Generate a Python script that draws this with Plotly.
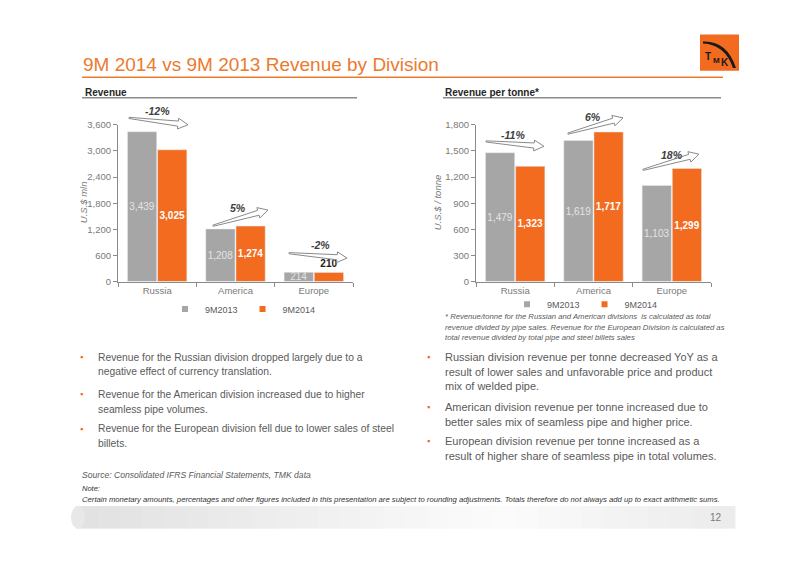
import plotly.graph_objects as go

# ---------------- data ----------------
divisions = ["Russia", "America", "Europe"]
series_names = ["9M2013", "9M2014"]
revenue_2013 = [3439, 1208, 214]
revenue_2014 = [3025, 1274, 210]
per_tonne_2013 = [1479, 1619, 1103]
per_tonne_2014 = [1323, 1717, 1299]
revenue_change = ["-12%", "5%", "-2%"]
per_tonne_change = ["-11%", "6%", "18%"]
revenue_ticks = [0, 600, 1200, 1800, 2400, 3000, 3600]
per_tonne_ticks = [0, 300, 600, 900, 1200, 1500, 1800]

left_bullets = [
    ["Revenue for the Russian division dropped largely due to a",
     "negative effect of currency translation."],
    ["Revenue for the American division increased due to higher",
     "seamless pipe volumes."],
    ["Revenue for the European division fell due to lower sales of steel",
     "billets."],
]
right_bullets = [
    ["Russian division revenue per tonne decreased YoY as a",
     "result of lower sales and unfavorable price and product",
     "mix of welded pipe."],
    ["American division revenue per tonne increased due to",
     "better sales mix of seamless pipe and higher price."],
    ["European division revenue per tonne increased as a",
     "result of higher share of seamless pipe in total volumes."],
]
footnote_lines = [
    "* Revenue/tonne for the Russian and American divisions  is calculated as total",
    "revenue divided by pipe sales. Revenue for the European Division is calculated as",
    "total revenue divided by total pipe and steel billets sales",
]

# ---------------- style ----------------
# The page body has an 8px margin, so the figure is sized to fill the rest of the
# 800x565 window; page coordinates are converted to paper coordinates below.
OFF = 8
W, H = 800 - OFF, 565 - OFF
FONT = "Liberation Sans, Arial, sans-serif"
ORANGE = "#F26B1F"
TITLE_ORANGE = "#EC7A2E"
GREY_BAR = "#A6A6A6"
AXIS = "#8A8A8A"
TXT = "#5A5A5A"


def px(x):
    return (x - OFF) / W


def py(y):
    return 1 - (y - OFF) / H


fig = go.Figure()

bar_common = dict(textangle=0, insidetextanchor="middle", cliponaxis=False,
                  hoverinfo="skip", showlegend=False)

# Revenue chart
fig.add_trace(go.Bar(
    x=divisions, y=revenue_2013, name=series_names[0], marker_color=GREY_BAR,
    xaxis="x", yaxis="y", texttemplate="%{y:,}", textposition="inside",
    insidetextfont=dict(color="#E4E4E4", size=10, family=FONT), **bar_common))
fig.add_trace(go.Bar(
    x=divisions, y=revenue_2014, name=series_names[1], marker_color=ORANGE,
    xaxis="x", yaxis="y", texttemplate="<b>%{y:,}</b>",
    textposition=["inside", "inside", "outside"],
    insidetextfont=dict(color="white", size=10, family=FONT),
    outsidetextfont=dict(color="#1A1A1A", size=10, family=FONT), **bar_common))

# Revenue per tonne chart
fig.add_trace(go.Bar(
    x=divisions, y=per_tonne_2013, name=series_names[0], marker_color=GREY_BAR,
    xaxis="x2", yaxis="y2", texttemplate="%{y:,}", textposition="inside",
    insidetextfont=dict(color="#E4E4E4", size=10, family=FONT), **bar_common))
fig.add_trace(go.Bar(
    x=divisions, y=per_tonne_2014, name=series_names[1], marker_color=ORANGE,
    xaxis="x2", yaxis="y2", texttemplate="<b>%{y:,}</b>", textposition="inside",
    insidetextfont=dict(color="white", size=10, family=FONT), **bar_common))

# Legend entries (small square keys like the original)
for lg, xa, ya in (("legend", "x", "y"), ("legend2", "x2", "y2")):
    for nm, col in zip(series_names, [GREY_BAR, ORANGE]):
        fig.add_trace(go.Scatter(x=[None], y=[None], mode="markers", name=nm,
                                 marker=dict(symbol="square", size=6, color=col),
                                 xaxis=xa, yaxis=ya, legend=lg, hoverinfo="skip"))

axis_common = dict(showline=True, linecolor=AXIS, linewidth=1, showgrid=False,
                   zeroline=False, ticks="outside", ticklen=4, tickcolor=AXIS,
                   tickfont=dict(family=FONT, size=9.5, color="#7A7A7A"))

legend_common = dict(orientation="h", xanchor="center", yanchor="middle",
                     font=dict(size=9, color=TXT, family=FONT), itemwidth=30,
                     bgcolor="rgba(0,0,0,0)", tracegroupgap=0)

fig.update_layout(
    width=W, height=H, margin=dict(l=0, r=0, t=0, b=0),
    paper_bgcolor="white", plot_bgcolor="white",
    font=dict(family=FONT, color=TXT),
    barmode="group", bargap=0.23, bargroupgap=0.03,
    uniformtext=dict(minsize=10, mode="show"),
    xaxis=dict(domain=[px(118), px(353)], tickson="boundaries", **axis_common),
    yaxis=dict(domain=[py(281), py(121)], range=[0, 3600], tickvals=revenue_ticks,
               tickformat=",", **axis_common),
    xaxis2=dict(domain=[px(476), px(711)], tickson="boundaries", anchor="y2",
                **axis_common),
    yaxis2=dict(domain=[py(281), py(121)], range=[0, 1800], tickvals=per_tonne_ticks,
                tickformat=",", anchor="x2", **axis_common),
    legend=dict(x=px(243), y=py(309), **legend_common),
    legend2=dict(x=px(585), y=py(304), **legend_common),
)

shapes = []
ann = []


def note(text, x, y, size, color, xanchor="left", **kw):
    ann.append(dict(text=text, x=px(x), y=py(y), xref="paper", yref="paper",
                    xanchor=xanchor, yanchor="middle", showarrow=False,
                    font=dict(family=FONT, size=size, color=color), **kw))


def hline(x0, x1, y, color, width):
    shapes.append(dict(type="line", xref="paper", yref="paper", x0=px(x0), x1=px(x1),
                       y0=py(y), y1=py(y), line=dict(color=color, width=width)))


# Title & headers
note("9M 2014 vs 9M 2013 Revenue by Division", 81, 60, 19, TITLE_ORANGE)
hline(82, 723, 72.5, TITLE_ORANGE, 1.5)
note("<b>Revenue</b>", 83, 88, 10, "#262626")
note("<b>Revenue per tonne*</b>", 443, 88, 10, "#262626")
hline(82, 357, 93.5, "#8C8C8C", 1.5)
hline(443, 721, 93.5, "#8C8C8C", 1.5)

# Logo
shapes.append(dict(type="rect", xref="paper", yref="paper", x0=px(700), x1=px(739),
                   y0=py(66), y1=py(29), fillcolor="#F26B1F", line=dict(width=0)))
shapes.append(dict(type="path", xref="paper", yref="paper",
                   path=(f"M {px(703)} {py(36)} Q {px(727)} {py(35)} {px(736)} {py(63)} "
                         f"L {px(733)} {py(63)} Q {px(725)} {py(39)} {px(703)} {py(38)} Z"),
                   fillcolor="#1A1A1A", line=dict(width=0)))
note("<b>T</b>", 708, 51, 10, "#1A1A1A", xanchor="center")
note("<b>M</b>", 716, 55, 8, "#1A1A1A", xanchor="center")
note("<b>K</b>", 725, 57, 10, "#1A1A1A", xanchor="center")

# Axis titles
note("<i>U.S.$ mln</i>", 83, 200, 9.5, "#7A7A7A", xanchor="center", textangle=-90)
note("<i>U.S.$ / tonne</i>", 437, 200, 9.5, "#7A7A7A", xanchor="center", textangle=-90)


def block_arrow(x0, y0, x1, y1):
    dx, dy = x1 - x0, y1 - y0
    L = (dx * dx + dy * dy) ** 0.5
    ux, uy = dx / L, dy / L
    nx, ny = -uy, ux
    hl = 10.0
    bx, by = x1 - ux * hl, y1 - uy * hl
    pts = [(x0 + nx * 0.6, y0 + ny * 0.6), (bx + nx * 2.6, by + ny * 2.6),
           (bx + nx * 5.5, by + ny * 5.5), (x1, y1),
           (bx - nx * 5.5, by - ny * 5.5), (bx - nx * 2.6, by - ny * 2.6),
           (x0 - nx * 0.6, y0 - ny * 0.6)]
    path = "M " + " L ".join(f"{px(a):.5f} {py(b):.5f}" for a, b in pts) + " Z"
    return dict(type="path", xref="paper", yref="paper", path=path,
                fillcolor="white", line=dict(color="#8A8A8A", width=1))


arrows = [
    (129, 114, 188, 121), (213, 224, 268, 208), (289, 252, 347, 257),
    (486, 138, 544, 143), (568, 130, 623, 114), (643, 167, 699, 151),
]
for a in arrows:
    shapes.append(block_arrow(*a))

pct_pos = [(157, 107), (238, 206), (320, 244)]
for t, (x, y) in zip(revenue_change, pct_pos):
    note(f"<b><i>{t}</i></b>", x, y, 10.5, "#404040", xanchor="center")
pct_pos2 = [(513, 131), (593, 113), (672, 152)]
for t, (x, y) in zip(per_tonne_change, pct_pos2):
    note(f"<b><i>{t}</i></b>", x, y, 10.5, "#404040", xanchor="center")

# Footnote under right chart
for i, line in enumerate(footnote_lines):
    note(f"<i>{line}</i>", 443, 317 + i * 10.5, 7.7, TXT)


def bullets(blocks, x_bullet, x_text, starts, size):
    for block, y0 in zip(blocks, starts):
        note("▪", x_bullet, y0, 9, ORANGE, xanchor="center")
        for i, line in enumerate(block):
            note(line, x_text, y0 + 15 * i, size, TXT)


bullets(left_bullets, 81, 96, [358, 396, 431], 10.3)
bullets(right_bullets, 428, 443, [358, 409, 444], 11)

# Source & notes
note("<i>Source: Consolidated IFRS Financial Statements, TMK data</i>", 80, 478, 8.6, TXT)
note("<i>Note:</i>", 80, 492, 7.5, "#333333")
note("<i>Certain monetary amounts, percentages and other figures included in this "
     "presentation are subject to rounding adjustments. Totals therefore do not "
     "always add up to exact arithmetic sums.</i>", 80, 503, 7.7, "#333333")

# Footer band (gradient approximation)
n = 30
x_start, x_end = 76, 735
for i in range(n):
    t = i / (n - 1)
    if t < 0.65:
        v = int(226 + (252 - 226) * (t / 0.65))
    else:
        v = int(252 - (252 - 236) * ((t - 0.65) / 0.35))
    c = f"rgb({v},{v},{v})"
    xa = x_start + (x_end - x_start) * i / n
    xb = x_start + (x_end - x_start) * (i + 1) / n + 0.5
    shapes.append(dict(type="rect", xref="paper", yref="paper", x0=px(xa), x1=px(xb),
                       y0=py(533), y1=py(510), fillcolor=c, line=dict(width=0),
                       layer="below"))
shapes.append(dict(type="circle", xref="paper", yref="paper", x0=px(71), x1=px(85),
                   y0=py(533), y1=py(510), fillcolor="rgb(232,232,232)",
                   line=dict(width=0), layer="below"))
note("12", 724, 522, 10, "#7A7A7A", xanchor="right")

fig.update_layout(shapes=shapes, annotations=ann)
fig.write_html("out.html")
